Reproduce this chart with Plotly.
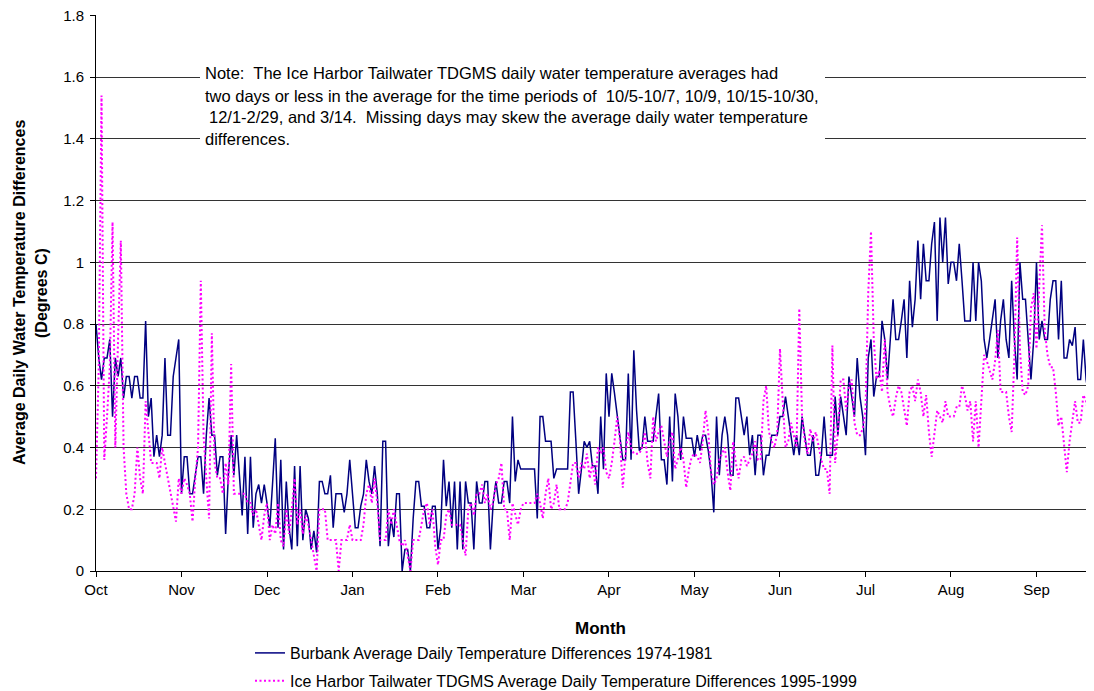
import plotly.graph_objects as go

# ---------------- data ----------------
month_labels = ["Oct", "Nov", "Dec", "Jan", "Feb", "Mar", "Apr", "May", "Jun", "Jul", "Aug", "Sep"]
month_tick_days = [0, 31, 62, 93, 124, 155, 186, 217, 248, 279, 310, 341]

burbank = [
    0.80, 0.69, 0.62, 0.69, 0.69, 0.75, 0.50, 0.69, 0.63, 0.69,
    0.56, 0.63, 0.63, 0.56, 0.63, 0.63, 0.56, 0.56, 0.81, 0.50,
    0.56, 0.37, 0.44, 0.37, 0.44, 0.69, 0.44, 0.44, 0.63, 0.69,
    0.75, 0.25, 0.37, 0.37, 0.25, 0.25, 0.31, 0.37, 0.37, 0.25,
    0.44, 0.56, 0.44, 0.44, 0.31, 0.37, 0.37, 0.12, 0.31, 0.44,
    0.31, 0.44, 0.31, 0.18, 0.37, 0.12, 0.37, 0.14, 0.25, 0.28,
    0.22, 0.28, 0.22, 0.14, 0.28, 0.43, 0.14, 0.36, 0.07, 0.29,
    0.14, 0.07, 0.34, 0.08, 0.34, 0.10, 0.20, 0.17, 0.07, 0.13,
    0.06, 0.29, 0.29, 0.25, 0.25, 0.31, 0.14, 0.25, 0.25, 0.25,
    0.19, 0.25, 0.36, 0.25, 0.14, 0.14, 0.21, 0.25, 0.36, 0.29,
    0.25, 0.34, 0.25, 0.08, 0.42, 0.42, 0.08, 0.17, 0.11, 0.25,
    0.25, 0.00, 0.07, 0.07, 0.00, 0.17, 0.29, 0.29, 0.21, 0.21,
    0.14, 0.14, 0.21, 0.21, 0.07, 0.14, 0.36, 0.21, 0.29, 0.14,
    0.29, 0.07, 0.29, 0.07, 0.29, 0.22, 0.22, 0.07, 0.29, 0.22,
    0.22, 0.29, 0.29, 0.07, 0.22, 0.29, 0.22, 0.22, 0.29, 0.29,
    0.22, 0.50, 0.29, 0.36, 0.33, 0.33, 0.33, 0.33, 0.33, 0.33,
    0.17, 0.50, 0.50, 0.42, 0.42, 0.42, 0.30, 0.33, 0.33, 0.33,
    0.33, 0.33, 0.58, 0.58, 0.42, 0.25, 0.33, 0.42, 0.40, 0.42,
    0.34, 0.34, 0.25, 0.50, 0.33, 0.64, 0.50, 0.64, 0.575, 0.50,
    0.42, 0.36, 0.36, 0.64, 0.36, 0.715, 0.52, 0.39, 0.40, 0.50,
    0.42, 0.42, 0.42, 0.50, 0.575, 0.36, 0.36, 0.28, 0.50, 0.29,
    0.575, 0.50, 0.36, 0.50, 0.43, 0.43, 0.43, 0.37, 0.44, 0.39,
    0.44, 0.44, 0.39, 0.32, 0.19, 0.50, 0.31, 0.44, 0.50, 0.44,
    0.31, 0.31, 0.56, 0.56, 0.50, 0.44, 0.50, 0.375, 0.44, 0.31,
    0.44, 0.44, 0.31, 0.375, 0.375, 0.44, 0.44, 0.44, 0.50, 0.50,
    0.565, 0.50, 0.44, 0.375, 0.44, 0.375, 0.50, 0.44, 0.375, 0.375,
    0.44, 0.31, 0.31, 0.375, 0.50, 0.375, 0.375, 0.375, 0.565, 0.44,
    0.565, 0.50, 0.44, 0.63, 0.565, 0.50, 0.69, 0.565, 0.50, 0.375,
    0.69, 0.75, 0.565, 0.63, 0.63, 0.81, 0.75, 0.62, 0.75, 0.88,
    0.75, 0.75, 0.81, 0.88, 0.69, 0.94, 0.79, 0.88, 1.07, 0.88,
    1.06, 0.94, 0.94, 1.06, 1.13, 0.81, 1.145, 1.0, 1.145, 0.93,
    1.0, 1.0, 0.94, 1.06, 0.94, 0.81, 0.81, 0.81, 1.0, 0.81,
    1.0, 0.94, 0.75, 0.69, 0.75, 0.81, 0.88, 0.69, 0.81, 0.88,
    0.75, 0.69, 0.94, 0.75, 0.62, 1.0, 0.88, 0.88, 0.75, 0.62,
    0.75, 1.0, 0.75, 0.81, 0.75, 0.75, 0.88, 0.94, 0.94, 0.75,
    0.94, 0.69, 0.69, 0.75, 0.73, 0.79, 0.62, 0.62, 0.75, 0.62,
    0.565, 0.50, 0.45,
]

ice_harbor = [
    0.30, 0.66, 1.54, 0.36, 0.50, 0.66, 1.13, 0.40, 0.75, 1.07,
    0.40, 0.25, 0.20, 0.20, 0.25, 0.40, 0.30, 0.25, 0.55, 0.45,
    0.35, 0.35, 0.35, 0.30, 0.40, 0.35, 0.30, 0.25, 0.20, 0.16,
    0.30, 0.25, 0.30, 0.28, 0.25, 0.16, 0.30, 0.40, 0.94, 0.44,
    0.30, 0.17, 0.77, 0.35, 0.30, 0.30, 0.25, 0.35, 0.28, 0.67,
    0.25, 0.25, 0.25, 0.25, 0.25, 0.22, 0.22, 0.18, 0.20, 0.15,
    0.10, 0.18, 0.22, 0.10, 0.15, 0.12, 0.22, 0.10, 0.08, 0.20,
    0.12, 0.20, 0.30, 0.15, 0.20, 0.12, 0.18, 0.15, 0.10, 0.05,
    0.00, 0.20, 0.20, 0.20, 0.10, 0.10, 0.10, 0.10, 0.00, 0.10,
    0.10, 0.10, 0.15, 0.10, 0.10, 0.10, 0.10, 0.15, 0.25, 0.28,
    0.22, 0.30, 0.22, 0.10, 0.10, 0.10, 0.20, 0.15, 0.20, 0.15,
    0.10, 0.08, 0.10, 0.05, 0.00, 0.10, 0.10, 0.10, 0.15, 0.20,
    0.22, 0.15, 0.20, 0.08, 0.02, 0.10, 0.10, 0.18, 0.20, 0.15,
    0.15, 0.15, 0.15, 0.10, 0.05, 0.20, 0.22, 0.18, 0.25, 0.25,
    0.28, 0.22, 0.25, 0.20, 0.22, 0.28, 0.30, 0.35, 0.20, 0.20,
    0.10, 0.22, 0.18, 0.15, 0.20, 0.22, 0.22, 0.22, 0.22, 0.22,
    0.25, 0.22, 0.17, 0.25, 0.30, 0.20, 0.22, 0.28, 0.20, 0.20,
    0.20, 0.22, 0.28, 0.35, 0.35, 0.30, 0.35, 0.33, 0.38, 0.30,
    0.35, 0.28, 0.40, 0.38, 0.40, 0.32, 0.30, 0.35, 0.42, 0.50,
    0.42, 0.27, 0.38, 0.45, 0.40, 0.38, 0.38, 0.38, 0.40, 0.45,
    0.35, 0.30, 0.50, 0.42, 0.45, 0.47, 0.42, 0.37, 0.42, 0.45,
    0.33, 0.37, 0.40, 0.36, 0.27, 0.33, 0.37, 0.38, 0.37, 0.35,
    0.42, 0.52, 0.45, 0.32, 0.28, 0.30, 0.36, 0.38, 0.40, 0.32,
    0.26, 0.42, 0.35, 0.30, 0.36, 0.37, 0.34, 0.36, 0.38, 0.42,
    0.36, 0.36, 0.55, 0.60, 0.45, 0.42, 0.40, 0.45, 0.72, 0.55,
    0.40, 0.42, 0.48, 0.44, 0.40, 0.85, 0.50, 0.42, 0.38, 0.46,
    0.42, 0.45, 0.40, 0.36, 0.33, 0.33, 0.25, 0.73, 0.35, 0.45,
    0.62, 0.62, 0.52, 0.60, 0.62, 0.48, 0.44, 0.44, 0.46, 0.52,
    0.90, 1.10, 0.75, 0.62, 0.65, 0.58, 0.75, 0.58, 0.53, 0.50,
    0.56, 0.60, 0.58, 0.52, 0.47, 0.58, 0.60, 0.55, 0.62, 0.58,
    0.50, 0.57, 0.45, 0.37, 0.45, 0.52, 0.50, 0.48, 0.55, 0.50,
    0.50, 0.50, 0.53, 0.53, 0.60, 0.57, 0.52, 0.55, 0.42, 0.55,
    0.40, 0.55, 0.70, 0.68, 0.65, 0.62, 0.68, 0.78, 0.58, 0.58,
    0.58, 0.50, 0.45, 0.70, 1.08, 0.72, 0.58, 0.57, 0.60, 0.85,
    0.90, 0.72, 0.95, 1.12, 0.78, 0.70, 0.66, 0.66, 0.58, 0.47,
    0.50, 0.42, 0.32, 0.42, 0.48, 0.55, 0.48, 0.48, 0.57, 0.55,
    0.50, 0.40, 0.35,
]

days_b = list(range(len(burbank)))
days_i = list(range(len(ice_harbor)))

y_ticks = [0, 0.2, 0.4, 0.6, 0.8, 1.0, 1.2, 1.4, 1.6, 1.8]
y_tick_text = ["0", "0.2", "0.4", "0.6", "0.8", "1", "1.2", "1.4", "1.6", "1.8"]

note_lines = [
    "Note:  The Ice Harbor Tailwater TDGMS daily water temperature averages had",
    "two days or less in the average for the time periods of  10/5-10/7, 10/9, 10/15-10/30,",
    "12/1-2/29, and 3/14.  Missing days may skew the average daily water temperature",
    "differences.",
]

# ---------------- layout geometry ----------------
# The page body has an 8px margin, so the figure starts at page pixel (8, 8).
OFF = 8
W, H = 1094 - OFF, 691 - OFF
L, R, T, B = 96 - OFF, 0, 15 - OFF, 120
PW, PH = W - L - R, H - T - B


def px(xpage):
    """page x pixel -> paper x"""
    return (xpage - OFF - L) / PW


def py(ypage):
    """page y pixel -> paper y"""
    return (T + PH - (ypage - OFF)) / PH


FONT = "Liberation Sans, Arial, Helvetica, sans-serif"

fig = go.Figure()
fig.add_trace(go.Scatter(
    x=days_b, y=burbank, mode="lines",
    name="Burbank Average Daily Temperature Differences 1974-1981",
    line=dict(color="#000080", width=1.5),
    legendgroup="a",
))
fig.add_trace(go.Scatter(
    x=days_i, y=ice_harbor, mode="lines",
    name="Ice Harbor Tailwater TDGMS Average Daily Temperature Differences 1995-1999",
    line=dict(color="#FF00FF", width=2, dash="2px,2.5px"),
    legendgroup="b",
))

annotations = []
note_x = [203, 203, 207, 203]
note_y = [73, 96, 117, 139]
for txt, xx, yy in zip(note_lines, note_x, note_y):
    annotations.append(dict(
        text=txt, xref="paper", yref="paper", x=px(xx), y=py(yy),
        xanchor="left", yanchor="middle", showarrow=False,
        font=dict(family=FONT, size=16.5, color="#000"),
    ))

annotations.append(dict(
    text="<b>Average Daily Water Temperature Differences</b>", textangle=-90,
    xref="paper", yref="paper", x=px(19), y=py(293), xanchor="center", yanchor="middle",
    showarrow=False, font=dict(family=FONT, size=16, color="#000"),
))
annotations.append(dict(
    text="<b>(Degrees C)</b>", textangle=-90,
    xref="paper", yref="paper", x=px(41), y=py(293), xanchor="center", yanchor="middle",
    showarrow=False, font=dict(family=FONT, size=16, color="#000"),
))
annotations.append(dict(
    text="<b>Month</b>", xref="paper", yref="paper", x=px(600), y=py(628),
    xanchor="center", yanchor="middle", showarrow=False,
    font=dict(family=FONT, size=17, color="#000"),
))

shapes = [dict(
    type="rect", xref="paper", yref="paper", layer="above",
    x0=px(200), x1=px(825), y0=py(150), y1=py(62),
    fillcolor="white", line=dict(width=0),
)]

fig.update_layout(
    width=W, height=H,
    margin=dict(l=L, r=R, t=T, b=B, pad=0, autoexpand=False),
    paper_bgcolor="white", plot_bgcolor="white",
    font=dict(family=FONT, size=15, color="#000"),
    showlegend=True,
    legend=dict(
        x=px(250), y=py(636), xanchor="left", yanchor="top",
        orientation="v", traceorder="grouped", tracegroupgap=4,
        font=dict(family=FONT, size=16, color="#000"),
        bgcolor="rgba(0,0,0,0)", itemwidth=30,
    ),
    annotations=annotations,
    shapes=shapes,
    xaxis=dict(
        range=[0, PW / 2.758], tickmode="array",
        tickvals=month_tick_days, ticktext=month_labels,
        showgrid=False, zeroline=False,
        showline=True, linecolor="#000", linewidth=1,
        ticks="outside", ticklen=5, tickcolor="#000",
        tickfont=dict(family=FONT, size=15, color="#000"),
    ),
    yaxis=dict(
        range=[0, 1.8008], tickmode="array", tickvals=y_ticks, ticktext=y_tick_text,
        showgrid=True, gridcolor="#333", gridwidth=1, zeroline=False,
        showline=True, linecolor="#000", linewidth=1,
        ticks="outside", ticklen=5, tickcolor="#000",
        ticklabelstandoff=3, ticklabeloverflow="allow",
        tickfont=dict(family=FONT, size=15, color="#000"),
    ),
)

fig.write_html("out.html")
